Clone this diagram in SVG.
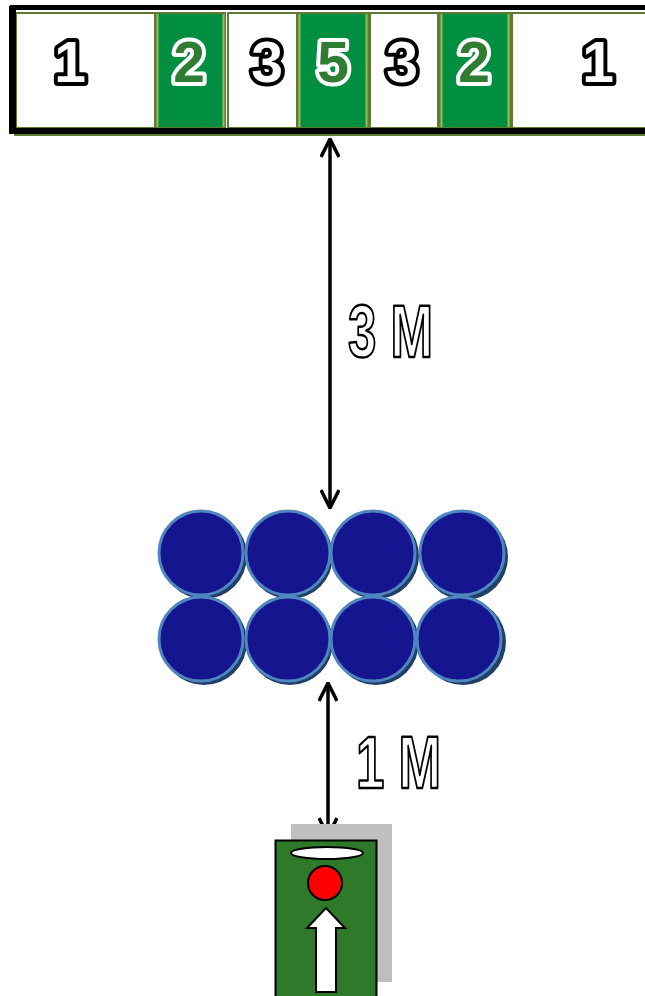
<svg xmlns="http://www.w3.org/2000/svg" width="645" height="996" viewBox="0 0 645 996">
<defs>
<style>
.cellw{fill:#ffffff;stroke:#5f7a32;stroke-width:2}
.cellg{fill:#008f40;stroke:#5f7a32;stroke-width:2}
.numb{font-family:"Liberation Sans",Arial,sans-serif;font-weight:bold;font-size:57px;text-anchor:middle;fill:#ffffff;stroke:#000000;stroke-width:8;stroke-linejoin:round;paint-order:stroke}
.numw{font-family:"Liberation Sans",Arial,sans-serif;font-weight:bold;font-size:57px;text-anchor:middle;fill:#2e7d32;stroke:#ffffff;stroke-width:8;stroke-linejoin:round;paint-order:stroke}
.dist{font-family:"Liberation Sans",Arial,sans-serif;font-weight:bold;font-size:74px;fill:#ffffff;stroke:#000000;stroke-width:2.5;stroke-linejoin:round}
.conn{stroke:#000000;stroke-width:3.5;fill:none}
.shadow{fill:#20406a}
.ball{fill:#15158f;stroke:#4f86c0;stroke-width:3}
</style>
<marker id="ah" viewBox="0 0 20 20" refX="19" refY="10" markerWidth="20" markerHeight="20" markerUnits="userSpaceOnUse" orient="auto-start-reverse">
<path d="M1 1 L19 10 L1 19" fill="none" stroke="#000" stroke-width="3.5"/>
</marker>
</defs>
<rect width="645" height="996" fill="#ffffff"/>

<g id="wall">
<rect class="cellw" x="16" y="13" width="139" height="115"/>
<rect class="cellg" x="156" y="13" width="69" height="115"/>
<rect class="cellw" x="228" y="13" width="69" height="115"/>
<rect class="cellg" x="298" y="13" width="70" height="115"/>
<rect class="cellw" x="370" y="13" width="68" height="115"/>
<rect class="cellg" x="440" y="13" width="70" height="115"/>
<rect class="cellw" x="512" y="13" width="140" height="115"/>
<line x1="157.5" y1="14" x2="157.5" y2="127" stroke="#9bbb59" stroke-width="2"/>
<line x1="223.5" y1="14" x2="223.5" y2="127" stroke="#9bbb59" stroke-width="2"/>
<line x1="299.5" y1="14" x2="299.5" y2="127" stroke="#9bbb59" stroke-width="2"/>
<line x1="366.5" y1="14" x2="366.5" y2="127" stroke="#9bbb59" stroke-width="2"/>
<line x1="441.5" y1="14" x2="441.5" y2="127" stroke="#9bbb59" stroke-width="2"/>
<line x1="508.5" y1="14" x2="508.5" y2="127" stroke="#9bbb59" stroke-width="2"/>
<rect x="10" y="5" width="640" height="5" fill="#000"/>
<rect x="10" y="128" width="640" height="6" fill="#000"/>
<rect x="14" y="134" width="636" height="2" fill="#5f7a32"/>
<rect x="9" y="6" width="7" height="128" fill="#000"/>
<text class="numb" x="70" y="82">1</text>
<text class="numw" x="189" y="82">2</text>
<text class="numb" x="267" y="82">3</text>
<text class="numw" x="333" y="82">5</text>
<text class="numb" x="402" y="82">3</text>
<text class="numw" x="474" y="82">2</text>
<text class="numb" x="598" y="82">1</text>
</g>

<g id="connectors">
<line class="conn" x1="330" y1="139" x2="330" y2="508" marker-start="url(#ah)" marker-end="url(#ah)"/>
<line class="conn" x1="328" y1="683" x2="328" y2="836" marker-start="url(#ah)" marker-end="url(#ah)"/>
</g>

<g id="label-3m">
<text class="dist" transform="translate(348,357) scale(0.69,1)" x="0" y="0">3 M</text>
</g>
<g id="label-1m">
<text class="dist" transform="translate(356,788) scale(0.69,1)" x="0" y="0">1 M</text>
</g>

<g id="wall-of-players">
<circle class="shadow" cx="204" cy="556" r="43"/>
<circle class="shadow" cx="290" cy="556" r="43"/>
<circle class="shadow" cx="376" cy="556" r="43"/>
<circle class="shadow" cx="465" cy="557" r="43"/>
<circle class="shadow" cx="204" cy="642" r="43"/>
<circle class="shadow" cx="290" cy="642" r="43"/>
<circle class="shadow" cx="376" cy="642" r="43"/>
<circle class="shadow" cx="463" cy="642" r="43"/>
<circle class="ball" cx="201" cy="553" r="42"/>
<circle class="ball" cx="288" cy="553" r="42"/>
<circle class="ball" cx="373" cy="553" r="42"/>
<circle class="ball" cx="462" cy="553" r="42"/>
<circle class="ball" cx="201" cy="639" r="42"/>
<circle class="ball" cx="288" cy="639" r="42"/>
<circle class="ball" cx="373" cy="639" r="42"/>
<circle class="ball" cx="459" cy="639" r="42"/>
</g>

<g id="kicker">
<rect x="291" y="824" width="101" height="158" fill="#bfbfbf"/>
<rect x="275.5" y="840.5" width="101" height="160" fill="#2e7a2a" stroke="#000" stroke-width="2"/>
<ellipse cx="327" cy="853" rx="36" ry="6" fill="#fff" stroke="#000" stroke-width="2"/>
<circle cx="325" cy="883" r="17" fill="#ff0000" stroke="#000" stroke-width="2"/>
<path d="M326 908 L345 928 L336 928 L336 992 L316 992 L316 928 L307 928 Z" fill="#fff" stroke="#000" stroke-width="2" stroke-linejoin="miter"/>
</g>
</svg>
